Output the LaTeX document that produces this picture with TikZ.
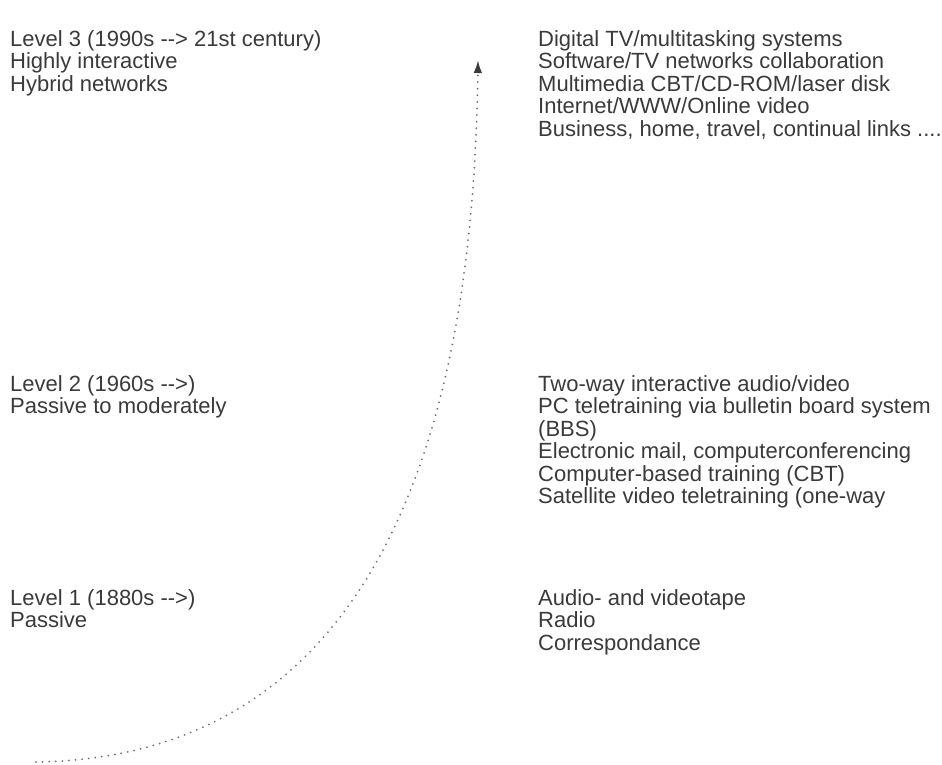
\documentclass[tikz,border=0pt]{standalone}
\usepackage{fontspec}
\setmainfont{Liberation Sans}[Ligatures=TeXOff]
\usetikzlibrary{arrows.meta}
\definecolor{ink}{HTML}{3A3A3A}
\definecolor{dotgray}{HTML}{707070}
\tikzset{
  label text/.style={anchor=north west, inner sep=0pt, align=left, text=ink,
    font=\fontsize{22pt}{22.5pt}\selectfont},
  growth/.style={draw=dotgray, line width=2pt, line cap=round,
    dash pattern=on 0pt off 6.6pt,
    -{Latex[length=13pt,width=8.5pt,fill=ink,color=ink]}}
}
\begin{document}
\begin{tikzpicture}[x=1pt,y=-1pt]
  \useasboundingbox (0,0) rectangle (942,764);
  % level descriptions (left column)
  \node[label text] (lvl3) at (10,30) {Level 3 (1990s --> 21st century)\\Highly interactive\\Hybrid networks};
  \node[label text] (lvl2) at (10,375) {Level 2 (1960s -->)\\Passive to moderately};
  \node[label text] (lvl1) at (10,589) {Level 1 (1880s -->)\\Passive};
  % technologies (right column)
  \node[label text] (tech3) at (538,30) {Digital TV/multitasking systems\\Software/TV networks collaboration\\Multimedia CBT/CD-ROM/laser disk\\Internet/WWW/Online video\\Business, home, travel, continual links ....};
  \node[label text] (tech2) at (538,375) {Two-way interactive audio/video\\PC teletraining via bulletin board system\\(BBS)\\Electronic mail, computerconferencing\\Computer-based training (CBT)\\Satellite video teletraining (one-way};
  \node[label text] (tech1) at (538,589) {Audio- and videotape\\Radio\\Correspondance};
  % growth curve
  \coordinate (start) at (36,762);
  \coordinate (c1) at (310,758);
  \coordinate (c2) at (472,545);
  \coordinate (tip) at (478,60);
  \draw[growth] (start) .. controls (c1) and (c2) .. (tip);
\end{tikzpicture}
\end{document}
